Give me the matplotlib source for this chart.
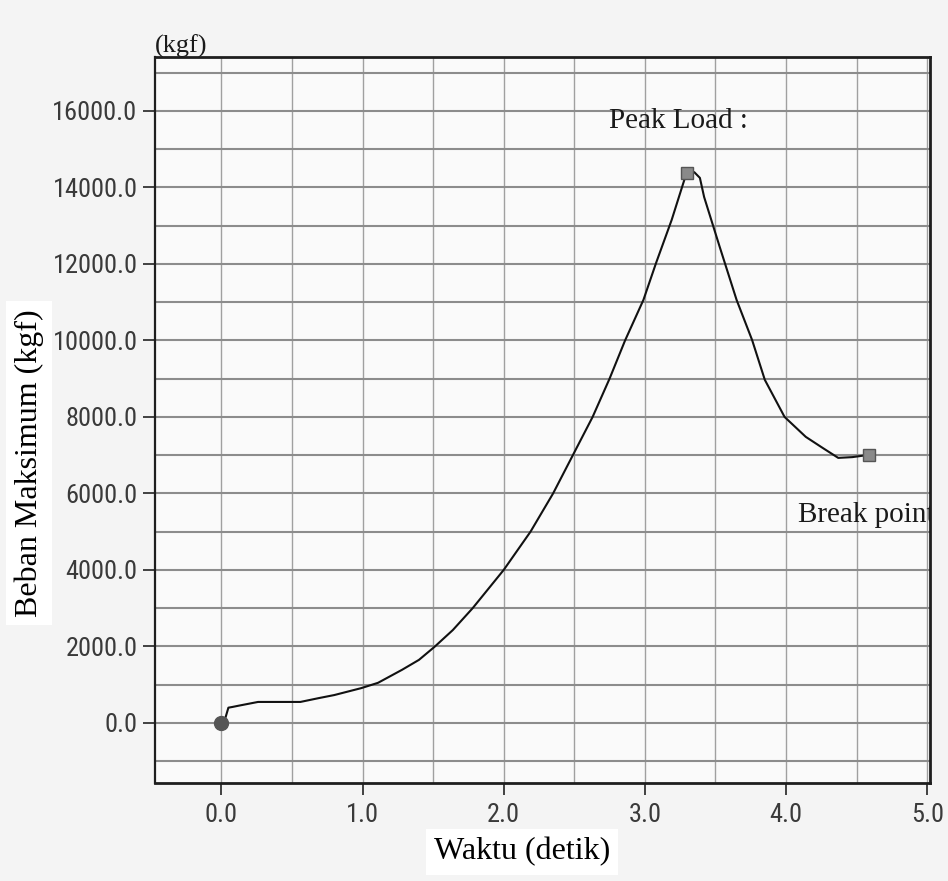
import matplotlib
matplotlib.use('Agg')
import matplotlib.pyplot as plt
from matplotlib import font_manager
from matplotlib.ticker import MultipleLocator, FormatStrFormatter

# data
waktu = [0.0, 0.03, 0.05, 0.08, 0.12, 0.26, 0.56, 0.69, 0.80, 0.99, 1.11, 1.28,
         1.40, 1.51, 1.64, 1.78, 2.00, 2.19, 2.35, 2.49, 2.63, 2.75, 2.86, 2.99,
         3.08, 3.19, 3.28, 3.30, 3.35, 3.39, 3.42, 3.53, 3.65, 3.76, 3.85, 3.99,
         4.14, 4.26, 4.37, 4.47, 4.59]
beban = [0, 150, 400, 420, 450, 550, 550, 650, 730, 910, 1050, 1390,
         1650, 1990, 2430, 3000, 4000, 5000, 6000, 7000, 8000, 9000, 10000, 11060,
         12030, 13150, 14200, 14380, 14400, 14250, 13750, 12450, 11060, 10010, 8970, 8000,
         7480, 7190, 6930, 6950, 7010]
start_pt = (0.0, 0)
peak_pt = (3.30, 14380)
break_pt = (4.59, 7010)

names = {f.name for f in font_manager.fontManager.ttflist}
tick_font, tick_size = 'Roboto', 17
for fam, size in [('Liberation Sans Narrow', 20), ('Roboto Condensed', 19), ('Open Sans Condensed', 19)]:
	if fam in names:
		tick_font, tick_size = fam, size
		break
serif = ['Liberation Serif', 'DejaVu Serif']

fig = plt.figure(figsize=(9.48, 8.81), dpi=100, facecolor='#f4f4f4')
ax = fig.add_axes([0.1635, 0.1112, 0.8175, 0.8241])
ax.set_facecolor('#fafafa')

ax.set_xlim(-0.47, 5.02)
ax.set_ylim(-1570, 17410)

ax.xaxis.set_major_locator(MultipleLocator(1.0))
ax.xaxis.set_minor_locator(MultipleLocator(0.5))
ax.yaxis.set_major_locator(MultipleLocator(2000))
ax.yaxis.set_minor_locator(MultipleLocator(1000))
ax.xaxis.set_major_formatter(FormatStrFormatter('%.1f'))
ax.yaxis.set_major_formatter(FormatStrFormatter('%.1f'))

ax.grid(axis='y', which='both', color='#8c8c8c', lw=1.5, zorder=0)
ax.grid(axis='x', which='both', color='#a0a0a0', lw=1.0, zorder=0)
ax.set_axisbelow(True)

ax.tick_params(which='major', direction='out', length=8.6, width=1.3, color='#333333',
               labelcolor='#3a3a3a', labelsize=tick_size)
ax.tick_params(axis='x', which='major', pad=5.5)
ax.tick_params(axis='y', which='major', pad=4)
ax.tick_params(which='minor', length=0)
for lab in ax.get_xticklabels() + ax.get_yticklabels():
	lab.set_fontfamily(tick_font)

for s in ax.spines.values():
	s.set_linewidth(2.0)
	s.set_color('#1e1e1e')
ax.spines['left'].set_linewidth(1.6)

ax.plot(waktu, beban, color='#111111', lw=1.5, zorder=3)
ax.plot(*start_pt, marker='o', markersize=10, color='#555555', zorder=4)
ax.plot(*peak_pt, marker='s', markersize=8, color='#8a8a8a', markeredgecolor='#555555', zorder=4)
ax.plot(*break_pt, marker='s', markersize=8, color='#8a8a8a', markeredgecolor='#555555', zorder=4)

ax.text(2.745, 15555, 'Peak Load :', family=serif, fontsize=21, va='baseline', color='#1a1a1a')
ax.text(4.085, 5255, 'Break point', family=serif, fontsize=21, va='baseline', color='#1a1a1a',
        clip_on=True)

fig.text(0.1635, 1 - 58 / 881, '(kgf)', family=serif, fontsize=19, va='bottom', ha='left',
         color='#1a1a1a')

fig.text(0.5506, 0.033, 'Waktu (detik)', family=serif, fontsize=23, ha='center', va='center',
         bbox=dict(facecolor='white', edgecolor='none', pad=6))
fig.text(0.0306, 0.4745, 'Beban Maksimum (kgf)', family=serif, fontsize=23, rotation=90,
         ha='center', va='center', bbox=dict(facecolor='white', edgecolor='none', pad=6))

fig.savefig('out.png', dpi=100, facecolor=fig.get_facecolor())
